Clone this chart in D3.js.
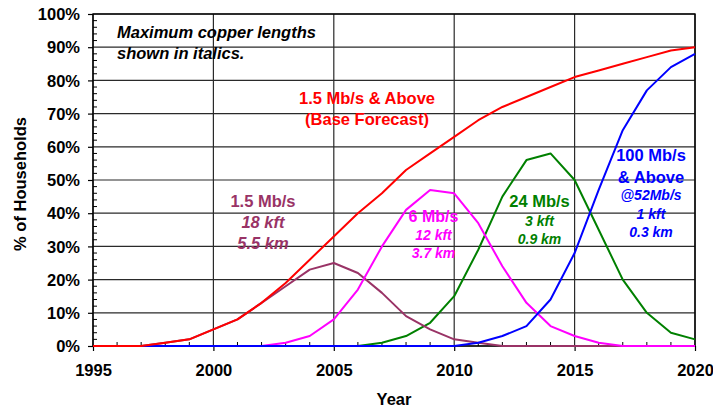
<!DOCTYPE html>
<html>
<head>
<meta charset="utf-8">
<script src="https://cdn.jsdelivr.net/npm/d3@7"></script>
<style>
  html, body { margin: 0; padding: 0; background: #fff; }
  svg { display: block; font-family: Arial, "Liberation Sans", sans-serif; }
</style>
</head>
<body>
<svg id="chart" width="713" height="412"></svg>
<script>
// Years on the horizontal axis
const years = [1995, 1996, 1997, 1998, 1999, 2000, 2001, 2002, 2003, 2004, 2005, 2006, 2007,
               2008, 2009, 2010, 2011, 2012, 2013, 2014, 2015, 2016, 2017, 2018, 2019, 2020];

// Share of households (%) reachable at each service tier
const above15 = [0, 0, 0, 1, 2, 5, 8, 13, 19, 26, 33, 40, 46, 53, 58, 63, 68, 72, 75, 78, 81, 83, 85, 87, 89, 90];
const only15  = [0, 0, 0, 1, 2, 5, 8, 13, 18, 23, 25, 22, 16, 9, 5, 2, 1, 0, 0, 0, 0, 0, 0, 0, 0, 0];
const mb6     = [0, 0, 0, 0, 0, 0, 0, 0, 1, 3, 8, 17, 30, 41, 47, 46, 37, 24, 13, 6, 3, 1, 0, 0, 0, 0];
const mb24    = [0, 0, 0, 0, 0, 0, 0, 0, 0, 0, 0, 0, 1, 3, 7, 15, 29, 45, 56, 58, 50, 35, 20, 10, 4, 2];
const mb100   = [0, 0, 0, 0, 0, 0, 0, 0, 0, 0, 0, 0, 0, 0, 0, 0, 1, 3, 6, 14, 28, 47, 65, 77, 84, 88];

// Axis tick labels
const xTicks = [1995, 2000, 2005, 2010, 2015, 2020];
const yTicks = [0, 10, 20, 30, 40, 50, 60, 70, 80, 90, 100];

const svg = d3.select("#chart");
const plot = { left: 93, right: 695, top: 14, bottom: 346 };

const x = d3.scaleLinear().domain([1995, 2020]).range([plot.left, plot.right]);
const y = d3.scaleLinear().domain([0, 100]).range([plot.bottom, plot.top]);

// Gridlines
const grid = svg.append("g");
grid.selectAll("line.h").data(yTicks).join("line")
  .attr("x1", plot.left).attr("x2", plot.right)
  .attr("y1", d => y(d)).attr("y2", d => y(d))
  .attr("stroke", "#2a2a2a").attr("stroke-width", 1.2);
grid.selectAll("line.v").data(xTicks).join("line")
  .attr("y1", plot.top).attr("y2", plot.bottom)
  .attr("x1", d => x(d)).attr("x2", d => x(d))
  .attr("stroke", "#2a2a2a").attr("stroke-width", 1.2);

// Minor ticks pointing into the plot
const minorY = d3.range(0, 101, 2).filter(v => v % 10 !== 0);
svg.append("g").selectAll("line").data(minorY).join("line")
  .attr("x1", plot.left).attr("x2", plot.left + 4)
  .attr("y1", d => y(d)).attr("y2", d => y(d))
  .attr("stroke", "#000").attr("stroke-width", 1);
const minorX = years.filter(v => v % 5 !== 0);
svg.append("g").selectAll("line").data(minorX).join("line")
  .attr("x1", d => x(d)).attr("x2", d => x(d))
  .attr("y1", plot.bottom).attr("y2", plot.bottom - 4)
  .attr("stroke", "#000").attr("stroke-width", 1);

// Axes
const xAxis = svg.append("g")
  .attr("transform", `translate(0,${plot.bottom})`)
  .call(d3.axisBottom(x).tickValues(xTicks).tickFormat(d3.format("d")).tickSize(5).tickPadding(13));
const yAxis = svg.append("g")
  .attr("transform", `translate(${plot.left},0)`)
  .call(d3.axisLeft(y).tickValues(yTicks).tickFormat(d => d + "%").tickSize(5).tickPadding(8));
[xAxis, yAxis].forEach(a => {
  a.select(".domain").remove();
  a.selectAll("line").attr("stroke", "#000").attr("stroke-width", 1.2);
  a.selectAll("text").attr("fill", "#000").attr("font-size", "16.5px")
    .attr("font-weight", "bold").attr("font-family", "Arial, 'Liberation Sans', sans-serif");
});
yAxis.selectAll("text").attr("dy", "0.34em");

// Plot frame
svg.append("rect")
  .attr("x", plot.left).attr("y", plot.top)
  .attr("width", plot.right - plot.left).attr("height", plot.bottom - plot.top)
  .attr("fill", "none").attr("stroke", "#000").attr("stroke-width", 1.4);

// Series lines (drawn bottom to top)
const series = [
  { values: mb24, color: "#008000" },
  { values: only15, color: "#993366" },
  { values: mb6, color: "#FF00FF" },
  { values: mb100, color: "#0000FF" },
  { values: above15, color: "#FF0000" }
];
const line = d3.line().x((d, i) => x(years[i])).y(d => y(d));
svg.append("g").selectAll("path").data(series).join("path")
  .attr("d", d => line(d.values))
  .attr("fill", "none").attr("stroke", d => d.color)
  .attr("stroke-width", 2).attr("stroke-linejoin", "round");

// Axis titles
svg.append("text").attr("x", (plot.left + plot.right) / 2).attr("y", 405)
  .attr("text-anchor", "middle").attr("font-size", "16.5px").attr("font-weight", "bold")
  .text("Year");
svg.append("text")
  .attr("transform", `translate(26,184) rotate(-90)`)
  .attr("text-anchor", "middle").attr("font-size", "16.5px").attr("font-weight", "bold")
  .text("% of Households");

// Annotations
function label(lines, color, cx) {
  const g = svg.append("g").attr("fill", color).attr("font-weight", "bold");
  lines.forEach(l => {
    g.append("text").attr("x", cx).attr("y", l.y)
      .attr("text-anchor", l.anchor || "middle")
      .attr("font-size", l.size + "px")
      .attr("font-style", l.italic ? "italic" : "normal")
      .text(l.text);
  });
}

label([
  { text: "Maximum copper lengths", y: 38, size: 16.5, italic: true, anchor: "start" },
  { text: "shown in italics.", y: 59, size: 16.5, italic: true, anchor: "start" }
], "#000", 117);

label([
  { text: "1.5 Mb/s & Above", y: 104, size: 16.5 },
  { text: "(Base Forecast)", y: 125, size: 16.5 }
], "#FF0000", 367);

label([
  { text: "1.5 Mb/s", y: 207, size: 16.5 },
  { text: "18 kft", y: 228, size: 16.5, italic: true },
  { text: "5.5 km", y: 249, size: 16.5, italic: true }
], "#993366", 263);

label([
  { text: "6 Mb/s", y: 222, size: 16 },
  { text: "12 kft", y: 240, size: 14, italic: true },
  { text: "3.7 km", y: 258, size: 14, italic: true }
], "#FF00FF", 433.5);

label([
  { text: "24 Mb/s", y: 207, size: 16.5 },
  { text: "3 kft", y: 226, size: 14, italic: true },
  { text: "0.9 km", y: 243.5, size: 14, italic: true }
], "#008000", 539.5);

label([
  { text: "100 Mb/s", y: 161, size: 16.5 },
  { text: "& Above", y: 183, size: 16.5 },
  { text: "@52Mb/s", y: 200, size: 14, italic: true },
  { text: "1 kft", y: 219, size: 14, italic: true },
  { text: "0.3 km", y: 237, size: 14, italic: true }
], "#0000FF", 651);
</script>
</body>
</html>
